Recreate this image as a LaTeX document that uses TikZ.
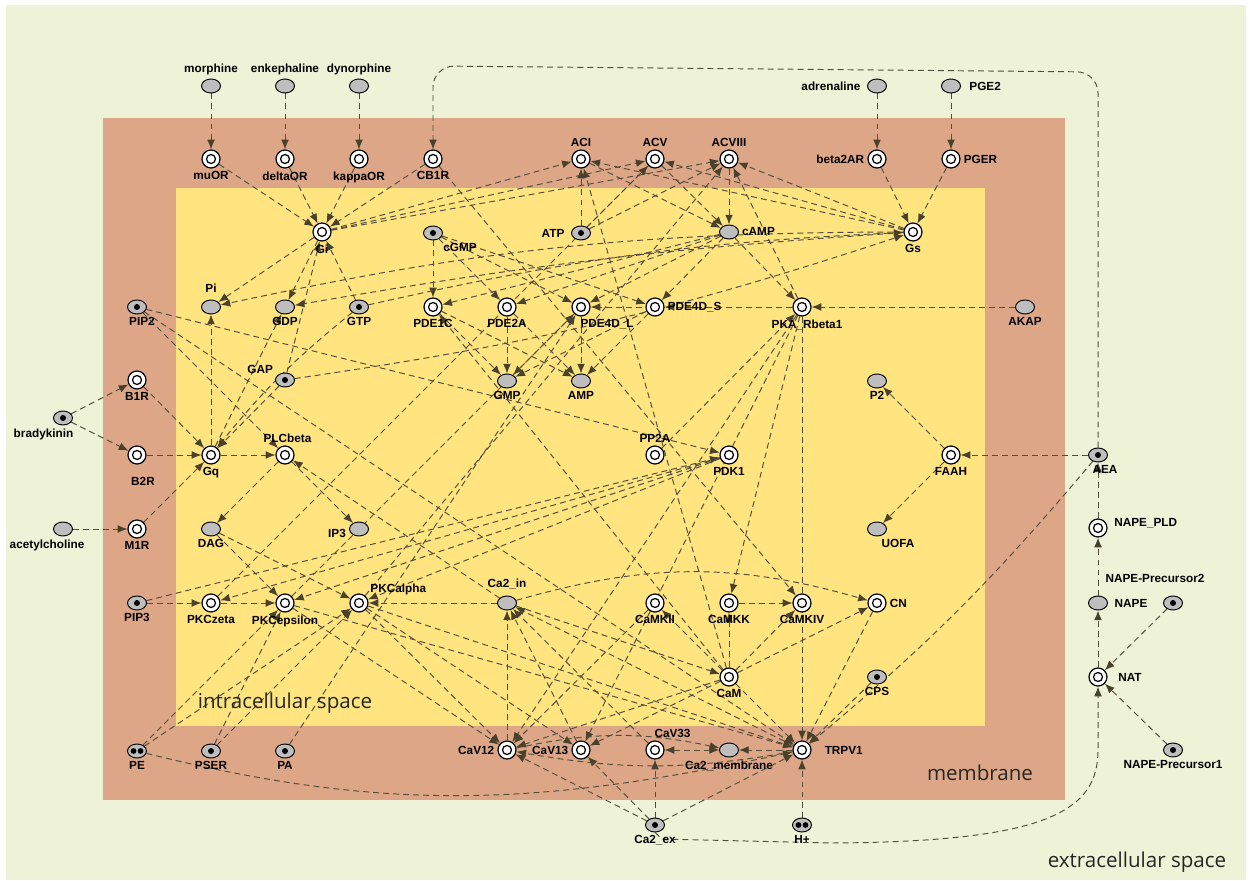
\documentclass[tikz,border=0pt]{standalone}
\usepackage{fontspec}
\setmainfont{Liberation Sans}
\newfontfamily\regionfont{Open Sans}
\usetikzlibrary{shapes.geometric,arrows.meta}
\definecolor{extrac}{RGB}{238,243,215}
\definecolor{membc}{RGB}{221,167,135}
\definecolor{intrac}{RGB}{255,228,127}
\definecolor{molgray}{RGB}{190,190,190}
\definecolor{linec}{RGB}{82,78,62}
\definecolor{tipc}{RGB}{72,66,44}
\pgfdeclarelayer{bg}
\pgfdeclarelayer{edges}
\pgfsetlayers{bg,edges,main}

\begin{document}
\begin{tikzpicture}[x=0.02cm, y=-0.02cm,
  enz/.style={circle, draw, fill=white, line width=0.7pt, minimum size=0.36cm, inner sep=0pt,
    path picture={\draw[black,line width=0.7pt] (path picture bounding box.center) circle (0.09cm);}},
  mol/.style={ellipse, draw, fill=molgray, line width=0.55pt, minimum width=0.38cm, minimum height=0.28cm, inner sep=0pt},
  dotmol/.style={mol, path picture={\fill[black] (path picture bounding box.center) circle (0.06cm);}},
  ddotmol/.style={mol, path picture={\fill[black] ([xshift=-0.07cm]path picture bounding box.center) circle (0.058cm);
    \fill[black] ([xshift=0.07cm]path picture bounding box.center) circle (0.058cm);}},
  lbl/.style={font=\fontsize{6.7}{8}\selectfont\bfseries, text=black, inner sep=1.6pt},
  region/.style={font=\regionfont\fontsize{11.7}{14}\selectfont, text=black!85},
  rel/.style={draw=linec, line width=0.55pt, dash pattern=on 3.4pt off 2.3pt,
    -{Latex[length=5.5pt,width=4.4pt,color=tipc]}},
  relboth/.style={rel, {Latex[length=5.5pt,width=4.4pt,color=tipc]}-{Latex[length=5.5pt,width=4.4pt,color=tipc]}}]
\useasboundingbox (0,0) rectangle (1250,881);

% compartments
\begin{pgfonlayer}{bg}
 \fill[white] (0,0) rectangle (1250,881);
 \fill[extrac] (6,5) rectangle (1246,880);
 \fill[membc] (103,118) rectangle (1065,800);
 \fill[intrac] (176,188) rectangle (985,726);
\end{pgfonlayer}
\node[region] (intraLbl) at (285,703) {intracellular space};
\node[region] (membLbl) at (980,773) {membrane};
\node[region] (extraLbl) at (1137,862) {extracellular space};

% ligands and receptors
\node[mol, label={[lbl]above:morphine}] (morphine) at (211,86) {};
\node[mol, label={[lbl]above:enkephaline}] (enkephaline) at (285,86) {};
\node[mol, label={[lbl]above:dynorphine}] (dynorphine) at (359,86) {};
\node[mol, label={[lbl,label distance=2pt]left:adrenaline}] (adrenaline) at (877,86) {};
\node[mol, label={[lbl,label distance=3pt]right:PGE2}] (PGE2) at (951,86) {};
\node[enz, label={[lbl]below:muOR}] (muOR) at (211,159) {};
\node[enz, label={[lbl]below:deltaOR}] (deltaOR) at (285,159) {};
\node[enz, label={[lbl]below:kappaOR}] (kappaOR) at (359,159) {};
\node[enz, label={[lbl]below:CB1R}] (CB1R) at (433,159) {};
\node[enz, label={[lbl]above:ACI}] (ACI) at (581,159) {};
\node[enz, label={[lbl]above:ACV}] (ACV) at (655,159) {};
\node[enz, label={[lbl]above:ACVIII}] (ACVIII) at (729,159) {};
\node[enz, label={[lbl]left:beta2AR}] (beta2AR) at (877,159) {};
\node[enz, label={[lbl]right:PGER}] (PGER) at (951,159) {};

% G proteins, cyclases, phosphodiesterases
\node[enz, label={[lbl]below:Gi}] (Gi) at (322,232) {};
\node[dotmol, label={[lbl,xshift=0.54cm]below:cGMP}] (cGMP) at (433,233) {};
\node[dotmol, label={[lbl,label distance=2pt]left:ATP}] (ATP) at (581,233) {};
\node[mol, label={[lbl]right:cAMP}] (cAMP) at (729,232) {};
\node[enz, label={[lbl]below:Gs}] (Gs) at (913,232) {};
\node[dotmol, label={[lbl,xshift=0.1cm]below:PIP2}] (PIP2) at (137,307) {};
\node[mol, label={[lbl,label distance=2pt]above:Pi}] (Pi) at (211,307) {};
\node[mol, label={[lbl]below:GDP}] (GDP) at (285,307) {};
\node[dotmol, label={[lbl]below:GTP}] (GTP) at (359,307) {};
\node[enz, label={[lbl]below:PDE1C}] (PDE1C) at (433,307) {};
\node[enz, label={[lbl]below:PDE2A}] (PDE2A) at (507,307) {};
\node[enz, label={[lbl,xshift=0.52cm]below:PDE4D\_L}] (PDE4DL) at (581,307) {};
\node[enz, label={[lbl]right:PDE4D\_S}] (PDE4DS) at (655,307) {};
\node[enz, label={[lbl,xshift=0.1cm]below:PKA\_Rbeta1}] (PKA) at (802,307) {};
\node[mol, label={[lbl]below:AKAP}] (AKAP) at (1025,307) {};

\node[enz, label={[lbl]below:B1R}] (B1R) at (137,380) {};
\node[dotmol, label={[lbl]160:GAP}] (GAP) at (285,380) {};
\node[mol, label={[lbl]below:GMP}] (GMP) at (507,381) {};
\node[mol, label={[lbl]below:AMP}] (AMP) at (581,381) {};
\node[mol, label={[lbl]below:P2}] (P2) at (877,381) {};
\node[dotmol, label={[lbl,xshift=-0.39cm]below:bradykinin}] (bradykinin) at (63,418) {};
\node[enz, label={[lbl,label distance=0.2cm,xshift=0.12cm]below:B2R}] (B2R) at (137,455) {};
\node[enz, label={[lbl]below:Gq}] (Gq) at (211,455) {};
\node[enz, label={[lbl,xshift=0.05cm]above:PLCbeta}] (PLCbeta) at (285,455) {};
\node[enz, label={[lbl]above:PP2A}] (PP2A) at (655,455) {};
\node[enz, label={[lbl]below:PDK1}] (PDK1) at (729,455) {};
\node[enz, label={[lbl]below:FAAH}] (FAAH) at (951,455) {};
\node[dotmol, label={[lbl,xshift=0.14cm]below:AEA}] (AEA) at (1098,455) {};

\node[mol, label={[lbl,xshift=-0.32cm]below:acetylcholine}] (acetylcholine) at (63,529) {};
\node[enz, label={[lbl]below:M1R}] (M1R) at (137,529) {};
\node[mol, label={[lbl]below:DAG}] (DAG) at (211,529) {};
\node[mol, label={[lbl,yshift=-0.08cm]left:IP3}] (IP3) at (359,529) {};
\node[mol, label={[lbl,xshift=0.42cm]below:UOFA}] (UOFA) at (877,529) {};
\node[enz, label={[lbl,yshift=0.1cm,label distance=2pt]right:NAPE\_PLD}] (NAPEPLD) at (1098,528) {};
\node[mol, label={[lbl,label distance=2pt]right:NAPE}] (NAPE) at (1098,603) {};
\node[dotmol, label={[lbl,label distance=0.2cm,xshift=-0.36cm]above:NAPE-Precursor2}] (NAPEprectwo) at (1173,603) {};

% kinases and calcium
\node[dotmol, label={[lbl]below:PIP3}] (PIP3) at (137,603) {};
\node[enz, label={[lbl]below:PKCzeta}] (PKCzeta) at (211,603) {};
\node[enz, label={[lbl]below:PKCepsilon}] (PKCepsilon) at (285,603) {};
\node[enz, label={[lbl]30:PKCalpha}] (PKCalpha) at (359,603) {};
\node[mol, label={[lbl,label distance=2pt]above:Ca2\_in}] (Ca2in) at (507,603) {};
\node[enz, label={[lbl]below:CaMKII}] (CaMKII) at (655,603) {};
\node[enz, label={[lbl]below:CaMKK}] (CaMKK) at (729,603) {};
\node[enz, label={[lbl]below:CaMKIV}] (CaMKIV) at (802,603) {};
\node[enz, label={[lbl]right:CN}] (CN) at (877,603) {};
\node[enz, label={[lbl]below:CaM}] (CaM) at (729,677) {};
\node[dotmol, label={[lbl]below:CPS}] (CPS) at (877,677) {};
\node[enz, label={[lbl,label distance=0.15cm]right:NAT}] (NAT) at (1098,677) {};

% channels and membrane lipids
\node[ddotmol, label={[lbl]below:PE}] (PE) at (137,751) {};
\node[dotmol, label={[lbl]below:PSER}] (PSER) at (211,751) {};
\node[dotmol, label={[lbl]below:PA}] (PA) at (285,751) {};
\node[enz, label={[lbl]left:CaV12}] (CaV12) at (507,750) {};
\node[enz, label={[lbl]left:CaV13}] (CaV13) at (581,750) {};
\node[enz, label={[lbl,xshift=0.35cm]above:CaV33}] (CaV33) at (655,750) {};
\node[mol, label={[lbl]below:Ca2\_membrane}] (Ca2mem) at (729,750) {};
\node[enz, label={[lbl,label distance=0.2cm]right:TRPV1}] (TRPV1) at (802,750) {};
\node[dotmol, label={[lbl]below:NAPE-Precursor1}] (NAPEprecone) at (1173,750) {};
\node[dotmol, label={[lbl]below:Ca2\_ex}] (Ca2ex) at (655,825) {};
\node[ddotmol, label={[lbl]below:H+}] (Hplus) at (802,825) {};

% interactions
\begin{pgfonlayer}{edges}
\foreach \src/\dst in {morphine/muOR, enkephaline/deltaOR, dynorphine/kappaOR, adrenaline/beta2AR, PGE2/PGER,
  muOR/Gi, deltaOR/Gi, kappaOR/Gi, CB1R/Gi, beta2AR/Gs, PGER/Gs,
  Gi/ACI, Gi/ACV, Gi/ACVIII, Gs/ACI, Gs/ACV, Gs/ACVIII,
  ATP/ACI, ATP/ACV, ATP/ACVIII, ACI/cAMP, ACV/cAMP, ACVIII/cAMP,
  Gi/Pi, Gi/GDP, GTP/Gi, GAP/Gi, Gq/Pi, Gq/GDP, GAP/Gq,
  bradykinin/B1R, bradykinin/B2R, acetylcholine/M1R, B1R/Gq, B2R/Gq, M1R/Gq,
  Gq/PLCbeta, PIP2/PLCbeta, Ca2in/PLCbeta, PLCbeta/DAG, PLCbeta/IP3,
  cGMP/PDE1C, cGMP/PDE2A, cGMP/PDE4DL, cGMP/PDE4DS,
  cAMP/PDE1C, cAMP/PDE2A, cAMP/PDE4DL, cAMP/PDE4DS, cAMP/PKA,
  PDE1C/GMP, PDE2A/GMP, PDE4DL/GMP, PDE4DS/GMP, PDE1C/AMP, PDE2A/AMP, PDE4DL/AMP, PDE4DS/AMP,
  AKAP/PKA, PKA/PDE4DL, PKA/PDE4DS, PKA/ACVIII, PKA/CaMKK, PKA/CaV12, PKA/CaV13, PKA/TRPV1, PP2A/PKA,
  CB1R/CaMKIV, PIP2/PDK1, PIP3/PDK1, PIP3/PKCzeta, PDK1/PKCzeta, PDK1/PKCepsilon, PDK1/PKCalpha,
  DAG/PKCepsilon, DAG/PKCalpha, Ca2in/PKCalpha, PKCzeta/PKCepsilon,
  PE/PKCepsilon, PE/PKCalpha, PSER/PKCepsilon, PSER/PKCalpha, PA/PDE4DL, PKCepsilon/PDE4DL,
  PKCzeta/ACV, PKCalpha/ACVIII, PIP2/TRPV1,
  PKCepsilon/TRPV1, PKCalpha/TRPV1, PKCepsilon/CaV12, PKCalpha/CaV12, PKCalpha/CaV13,
  Ca2in/CaM, CaM/CaMKII, CaM/CaMKK, CaM/CaMKIV, CaM/CN, CaM/PDE1C, CaM/ACI, CaM/CaV12, CaM/CaV13, CaM/TRPV1,
  CaMKK/CaMKIV, CaMKII/CaV12, CN/TRPV1,
  CaV12/Ca2in, CaV13/Ca2in, CaV33/Ca2in, TRPV1/Ca2in,
  Ca2ex/CaV12, Ca2ex/CaV13, Ca2ex/CaV33, Ca2ex/TRPV1, CPS/TRPV1, Hplus/TRPV1, TRPV1/Ca2mem,
  AEA/FAAH, FAAH/P2, FAAH/UOFA, NAPEPLD/AEA, NAPE/NAPEPLD, NAT/NAPE, NAPEprectwo/NAT, NAPEprecone/NAT}
  \draw[rel] (\src) -- (\dst);
\draw[rel] (Gs) to[bend right=6] (Pi);
\draw[rel] (Gs) to[bend right=3] (GDP);
\draw[rel] (GTP) to[bend left=5] (Gs);
\draw[rel] (GAP) to[bend right=5] (Gs);
\draw[rel] (GTP) to[bend right=6] (Gq);
\draw[rel] (AEA) to[bend left=5] (TRPV1);
\draw[rel] (Ca2in) to[bend left=16] (CN);
\draw[rel] (CaV12) to[bend left=12] (Ca2mem);
\draw[rel] (TRPV1) to[bend left=10] (CaV12);
\draw[relboth] (CaV33) -- (Ca2mem);
\draw[rel] (PE) to[out=-14,in=192] (TRPV1);
\draw[rel,rounded corners=12pt] (AEA) -- (1098,72) -- (433,66) -- (CB1R);
\draw[rel] (Ca2ex.south) -- (662,839) -- (830,843) .. controls (1050,842) and (1098,810) .. (1098,750) -- (NAT);
\end{pgfonlayer}
\end{tikzpicture}
\end{document}
